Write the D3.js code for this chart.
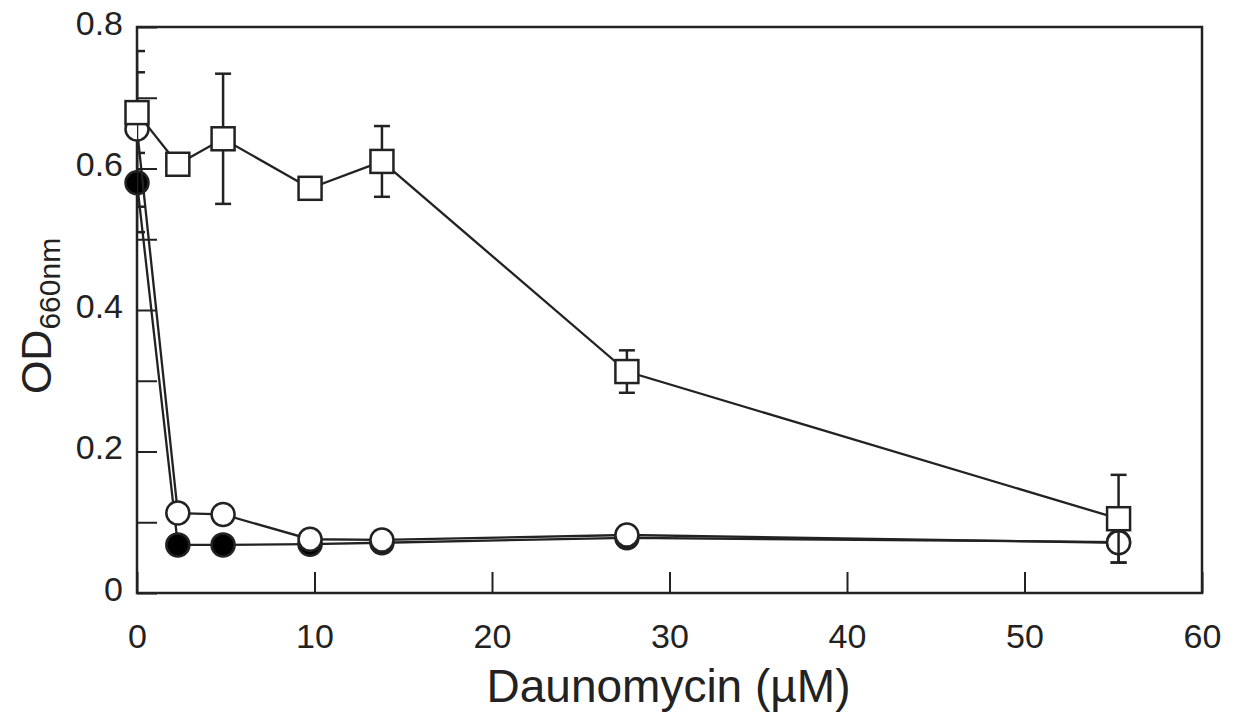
<html>
<script src="https://d3js.org/d3.v7.min.js"></script>
<style>
body { margin: 0; background: #fff; }
text { font-family: "Liberation Sans", Arial, sans-serif; fill: #222; }
</style>
<body>
<div id="chart"></div>
<script>

// concentrations of daunomycin (uM)
var conc = [0, 2.3, 4.85, 9.75, 13.8, 27.6, 55.3];

// open squares
var sqVals = [0.679, 0.606, 0.642, 0.572, 0.61, 0.313, 0.105];
var sqErr  = [0.057, 0, 0.092, 0, 0.05, 0.03, 0.062];
// open circles
var ocVals = [0.656, 0.113, 0.111, 0.076, 0.075, 0.082, 0.071];
var ocErr  = [0.11, 0, 0, 0, 0, 0, 0.028];
// filled circles
var fcVals = [0.58, 0.068, 0.068, 0.069, 0.071, 0.078, 0.072];
var fcErr  = [0.07, 0, 0, 0, 0, 0, 0];

var yTicks = [0, 0.1, 0.2, 0.3, 0.4, 0.5, 0.6, 0.7, 0.8];
var xTicks = [0, 10, 20, 30, 40, 50, 60];

var margin = {top: 27, right: 33, bottom: 129, left: 137},
    width = 1235 - margin.left - margin.right,
    height = 722 - margin.top - margin.bottom;

var x = d3.scaleLinear().domain([0, 60]).range([0, width]);
var y = d3.scaleLinear().domain([0, 0.8]).range([height, 0]);

var svg = d3.select("#chart")
    .append("svg")
    .attr("width", 1235)
    .attr("height", 722)
    .append("g")
    .attr("transform", "translate(" + margin.left + "," + margin.top + ")");

svg.append("clipPath").attr("id", "plotclip")
    .append("rect").attr("width", width).attr("height", height);

// axes: ticks point inward
var yAxis = svg.append("g")
    .call(d3.axisLeft(y).tickValues(yTicks).tickSize(-20).tickPadding(14)
        .tickFormat(function(d){ return (Math.round(d * 10) % 2 == 0) ? (d == 0 ? "0" : d3.format(".1f")(d)) : ""; }));

var xAxis = svg.append("g")
    .attr("transform", "translate(0," + height + ")")
    .call(d3.axisBottom(x).tickValues(xTicks).tickSize(-21).tickPadding(31));

[yAxis, xAxis].forEach(function(a){
    a.select(".domain").remove();
    a.selectAll(".tick line").attr("stroke", "#222").attr("stroke-width", 2);
    a.selectAll(".tick text").style("font-size", "34px").attr("fill", "#222");
});
yAxis.selectAll(".tick text").attr("dy", "0.22em");

// frame
svg.append("rect")
    .attr("width", width).attr("height", height)
    .attr("fill", "none").attr("stroke", "#222").attr("stroke-width", 2.5);

// axis titles
svg.append("text")
    .attr("x", width / 2 - 1).attr("y", height + 109)
    .attr("text-anchor", "middle")
    .style("font-size", "46px")
    .text("Daunomycin (µM)");

var yt = svg.append("text")
    .attr("transform", "translate(" + (-86) + "," + 289 + ") rotate(-90)")
    .attr("text-anchor", "middle")
    .style("font-size", "43px");
yt.append("tspan").text("OD");
yt.append("tspan").attr("dy", "0.3em").style("font-size", "30px").text("660nm");

var series = [
    {vals: fcVals, err: fcErr, shape: "circle", fill: "#000"},
    {vals: ocVals, err: ocErr, shape: "circle", fill: "#fff"},
    {vals: sqVals, err: sqErr, shape: "square", fill: "#fff"}
];

var line = d3.line()
    .x(function(d){ return x(d.c); })
    .y(function(d){ return y(d.v); });

series.forEach(function(s){
    var data = conc.map(function(c, i){ return {c: c, v: s.vals[i], e: s.err[i]}; });

    // error bars
    var eb = svg.append("g").attr("clip-path", "url(#plotclip)")
        .selectAll("g").data(data.filter(function(d){ return d.e > 0; }))
        .enter().append("g")
        .attr("stroke", "#222").attr("stroke-width", 2.5);
    eb.append("line")
        .attr("x1", function(d){ return x(d.c); }).attr("x2", function(d){ return x(d.c); })
        .attr("y1", function(d){ return y(d.v - d.e); }).attr("y2", function(d){ return y(d.v + d.e); });
    [-1, 1].forEach(function(sgn){
        eb.append("line")
            .attr("x1", function(d){ return x(d.c) - 8; }).attr("x2", function(d){ return x(d.c) + 8; })
            .attr("y1", function(d){ return y(d.v + sgn * d.e); }).attr("y2", function(d){ return y(d.v + sgn * d.e); });
    });

    svg.append("path").datum(data)
        .attr("d", line)
        .attr("fill", "none").attr("stroke", "#222").attr("stroke-width", 2.3);

    if (s.shape == "circle") {
        svg.selectAll(null).data(data).enter().append("circle")
            .attr("cx", function(d){ return x(d.c); })
            .attr("cy", function(d){ return y(d.v); })
            .attr("r", 11.5)
            .attr("fill", s.fill).attr("stroke", "#222").attr("stroke-width", 2.5);
    } else {
        svg.selectAll(null).data(data).enter().append("rect")
            .attr("x", function(d){ return x(d.c) - 11.5; })
            .attr("y", function(d){ return y(d.v) - 11.5; })
            .attr("width", 23).attr("height", 23)
            .attr("fill", s.fill).attr("stroke", "#222").attr("stroke-width", 2.5);
    }
});

</script>
</body>
</html>
